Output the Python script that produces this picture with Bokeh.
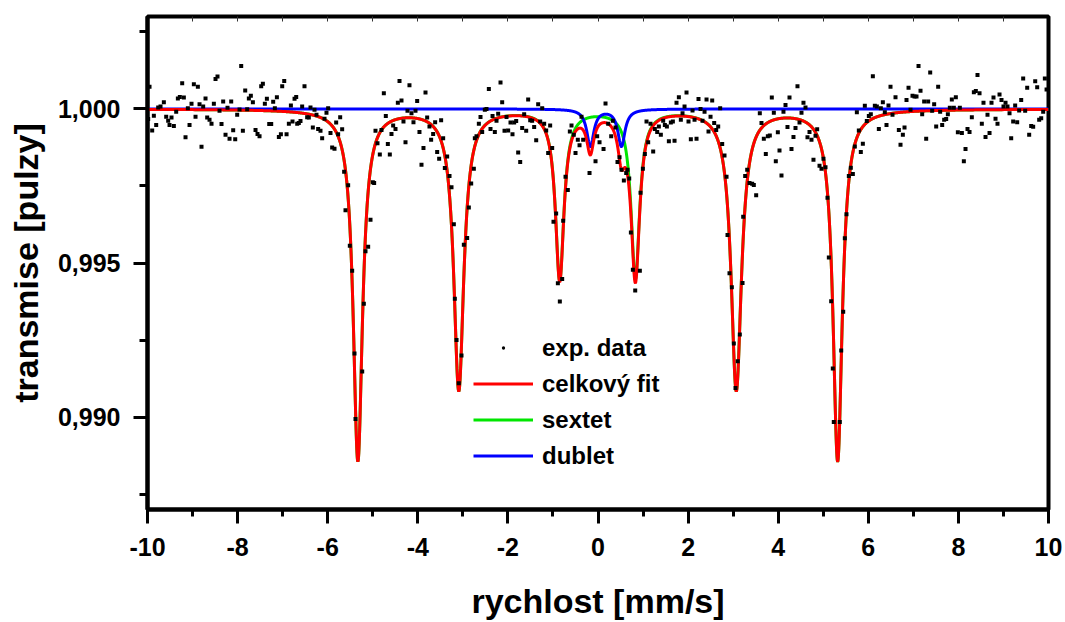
import numpy as np
from bokeh.plotting import figure
from bokeh.models import (Range1d, FixedTicker, LinearAxis, CustomJSTickFormatter,
                          Legend, LegendItem)
from bokeh.embed import file_html
from bokeh.resources import INLINE

# ---------------- data ----------------
exp_x = [
    # -10 .. -6.7
    -9.955, -9.985, -9.896, -9.859, -9.807, -9.763, -9.711, -9.637, -9.585, -9.541,
    -9.511, -9.467, -9.415, -9.363, -9.326, -9.282, -9.230, -9.193, -9.156, -9.104,
    -9.067, -9.023, -8.971, -8.934, -8.882, -8.845, -8.801, -8.764, -8.712, -8.675,
    -8.623, -8.579, -8.527, -8.490, -8.446, -8.401, -8.357, -8.320, -8.268, -8.224,
    -8.179, -8.142, -8.098, -8.053, -8.009, -7.957, -7.920, -7.883, -7.831, -7.787,
    -7.750, -7.706, -7.661, -7.602, -7.558, -7.513, -7.476, -7.439, -7.395, -7.350,
    -7.298, -7.254, -7.210, -7.173, -7.128, -7.084, -7.039, -7.010, -6.965, -6.913,
    -6.862, -6.817, -6.781, -6.736, -6.699, -6.677,
    # -6.7 .. -5.4
    -6.641, -6.604, -6.567, -6.515, -6.456, -6.419, -6.382, -6.330, -6.293, -6.249,
    -6.212, -6.160, -6.123, -6.071, -6.027, -5.990, -5.938, -5.901, -5.849, -5.812,
    -5.768, -5.723, -5.679, -5.635, -5.605, -5.546, -5.509, -5.457,
    -5.405, -5.383, -5.234,
    # -5.2 .. -3.4
    -5.198, -5.161, -5.102, -5.050, -4.998, -4.969, -4.939, -4.895, -4.843, -4.806,
    -4.754, -4.710, -4.665, -4.621, -4.584, -4.547, -4.495, -4.443, -4.406, -4.362,
    -4.318, -4.273, -4.229, -4.185, -4.140, -4.096, -4.051, -4.014, -3.963, -3.918,
    -3.874, -3.829, -3.792, -3.741, -3.704, -3.659, -3.615, -3.570, -3.526, -3.482,
    -3.437, -3.400,
    # -3.4 .. 0
    -3.348, -3.296, -3.252, -3.200, -3.178,
    -3.140, -3.090, -3.030,
    -2.978, -2.904, -2.867, -2.815, -2.756, -2.734, -2.697, -2.645, -2.608, -2.571,
    -2.512, -2.475, -2.423, -2.386, -2.341, -2.290, -2.253, -2.216, -2.164, -2.127,
    -2.075, -2.031, -1.994, -1.942, -1.898, -1.861, -1.816, -1.772, -1.727, -1.683,
    -1.639, -1.594, -1.550, -1.505, -1.461, -1.417, -1.372, -1.328, -1.283, -1.239,
    -1.195, -1.150, -1.106, -1.062, -1.017, -0.988, -0.929, -0.891, -0.847, -0.795,
    -0.773, -0.721, -0.670, -0.625, -0.588, -0.537, -0.499, -0.448, -0.410, -0.366,
    -0.329, -0.188, -0.055,
    # 0 .. 3.3
    -0.018, 0.034, 0.123, 0.167, 0.226, 0.293, 0.330, 0.389, 0.433, 0.478,
    0.522, 0.574, 0.626, 0.656, 0.693, 0.730, 0.774, 0.826, 0.929, 0.944,
    0.996, 1.040, 1.077, 1.114, 1.166, 1.225, 1.262, 1.314, 1.351, 1.395,
    1.447, 1.484, 1.529, 1.573, 1.617, 1.662, 1.699, 1.743, 1.795, 1.839,
    1.876, 1.921, 1.965, 2.009, 2.061, 2.098, 2.143, 2.187, 2.231, 2.276,
    2.320, 2.365, 2.409, 2.453, 2.498, 2.535, 2.579, 2.624, 2.668, 2.712,
    2.757, 2.808, 2.853, 2.875, 2.919, 2.971,
    3.015, 3.052, 3.103, 3.148,
    3.208, 3.223, 3.267, 3.312,
    # 3.3 .. 6.6
    3.363, 3.422, 3.459, 3.511, 3.592, 3.629, 3.681, 3.725, 3.770, 3.814,
    3.858, 3.903, 3.947, 3.992, 4.029, 4.073, 4.117, 4.162, 4.206, 4.251,
    4.295, 4.339, 4.384, 4.428, 4.473, 4.517, 4.561, 4.606, 4.650, 4.695,
    4.739, 4.783, 4.828, 4.865, 4.917, 4.961, 5.005, 5.050, 5.094, 5.124,
    5.176,
    5.212, 5.234, 5.367, 5.399, 5.443,
    5.479, 5.516, 5.568, 5.612, 5.657, 5.701, 5.746, 5.790, 5.834, 5.879,
    5.923, 5.967, 6.012, 6.056, 6.101, 6.145, 6.190, 6.234, 6.278, 6.323,
    6.367, 6.404, 6.448, 6.493, 6.537, 6.604,
    # 6.6 .. 10
    6.678, 6.715, 6.767, 6.804, 6.848, 6.893, 6.937, 6.981, 7.026, 7.070,
    7.115, 7.159, 7.196, 7.240, 7.285, 7.329, 7.374, 7.418, 7.462, 7.507,
    7.551, 7.595, 7.640, 7.684, 7.729, 7.766, 7.810, 7.854, 7.899, 7.943,
    7.988, 8.032, 8.077, 8.121, 8.158, 8.202, 8.247, 8.298, 8.343, 8.387,
    8.424, 8.469, 8.520, 8.557, 8.602, 8.646, 8.691, 8.735, 8.779, 8.824,
    8.868, 8.913, 8.957, 9.001, 9.046, 9.090, 9.135, 9.172, 9.216, 9.260,
    9.305, 9.349, 9.394, 9.438, 9.482, 9.527, 9.571, 9.616, 9.660, 9.705,
    9.749, 9.793, 9.838, 9.882, 9.919, 9.957,
]

exp_y = [
    1.00072, 0.99967, 0.99930, 0.99978, 0.99948, 1.00005, 1.00008, 1.00022, 0.99975, 0.99962,
    0.99948, 0.99972, 0.99945, 0.99991, 1.00034, 1.00039, 1.00083, 1.00037, 0.99908, 1.00002,
    0.99948, 1.00017, 1.00080, 0.99975, 1.00072, 1.00015, 0.99877, 1.00008, 1.00034, 0.99972,
    0.99965, 0.99952, 1.00017, 1.00097, 1.00105, 0.99994, 0.99951, 1.00024, 0.99916, 1.00004,
    0.99903, 1.00024, 0.99931, 0.99902, 0.99981, 0.99998, 1.00139, 0.99929, 1.00060, 0.99999,
    1.00034, 1.00043, 1.00022, 0.99932, 0.99919, 0.99911, 1.00074, 1.00082, 1.00017, 1.00033,
    0.99951, 0.99951, 1.00023, 1.00002, 1.00038, 0.99909, 0.99918, 1.00074, 1.00091, 0.99918,
    0.99952, 1.00011, 0.99959, 1.00033, 1.00039, 0.99952,
    0.99954, 0.99961, 1.00008, 1.00074, 0.99973, 0.99972, 1.00005, 0.99940, 0.99997, 0.99981,
    0.99935, 0.99929, 0.99905, 0.99968, 0.99988, 1.00002, 0.99922, 0.99875, 0.99871, 0.99956,
    0.99918, 0.99973, 0.99934, 0.99796, 0.99671, 0.99752, 0.99556, 0.99475,
    0.99206, 0.98994, 0.99148,
    0.99368, 0.99538, 0.99553, 0.99640, 0.99762, 0.99760, 0.99929, 0.99889, 0.99852, 0.99932,
    1.00051, 0.99977, 0.99886, 0.99852, 0.99919, 0.99946, 0.99935, 1.00020, 1.00091, 1.00027,
    0.99959, 0.99892, 0.99994, 1.00077, 0.99986, 0.99957, 0.99994, 1.00026, 0.99925, 0.99819,
    0.99873, 1.00053, 0.99972, 0.99943, 0.99900, 0.99919, 0.99957, 0.99860, 0.99838, 0.99963,
    0.99905, 0.99808,
    0.99846, 0.99782, 0.99746, 0.99626, 0.99384,
    0.99250, 0.99110, 0.99200,
    0.99559, 0.99581, 0.99680, 0.99758, 0.99806, 0.99905, 0.99911, 0.99952, 0.99974, 0.99925,
    0.99997, 1.00000, 1.00065, 0.99935, 0.99977, 0.99925, 0.99962, 0.99984, 1.00086, 1.00022,
    0.99929, 0.99974, 0.99930, 0.99956, 0.99918, 0.99956, 0.99961, 0.99859, 0.99828, 0.99938,
    0.99983, 0.99929, 1.00031, 0.99963, 0.99962, 0.99941, 0.99898, 1.00015, 0.99959, 1.00002,
    0.99952, 0.99930, 0.99857, 0.99946, 0.99873, 0.99634, 0.99661, 0.99434, 0.99375, 0.99448,
    0.99637, 0.99780, 0.99737, 0.99927, 0.99946, 0.99916, 0.99857, 0.99900, 0.99882, 0.99975,
    0.99900, 0.99792, 0.99830,
    0.99911, 0.99892, 0.99870, 1.00018, 0.99952, 0.99911, 0.99962, 0.99940, 0.99828, 0.99843,
    0.99803, 0.99768, 0.99792, 0.99803, 0.99774, 0.99599, 0.99478, 0.99411, 0.99475, 0.99728,
    0.99806, 0.99854, 0.99959, 0.99892, 0.99952, 0.99862, 0.99935, 0.99925, 0.99943, 0.99916,
    0.99962, 0.99948, 0.99943, 0.99895, 0.99956, 0.99959, 0.99897, 1.00020, 1.00038, 0.99965,
    0.99986, 1.00008, 1.00053, 0.99959, 0.99902, 0.99995, 0.99965, 0.99903, 1.00032, 1.00000,
    0.99962, 0.99991, 1.00031, 0.99927, 0.99975, 1.00027, 0.99954, 0.99932, 0.99943, 1.00002,
    0.99886, 0.99849, 0.99780, 0.99591, 0.99467, 0.99421,
    0.99239, 0.99094, 0.99181, 0.99268,
    0.99435, 0.99650, 0.99782, 0.99803,
    0.99760, 0.99757, 0.99753, 0.99720, 0.99986, 0.99954, 0.99903, 0.99854, 0.99911, 0.99914,
    1.00037, 0.99988, 0.99830, 0.99924, 0.99865, 0.99784, 0.99991, 1.00013, 0.99941, 1.00037,
    0.99870, 0.99909, 0.99938, 1.00074, 0.99956, 0.99988, 1.00020, 1.00005, 0.99908, 0.99925,
    0.99900, 0.99835, 0.99913, 0.99934, 0.99816, 0.99806, 0.99838, 0.99811, 0.99712, 0.99518,
    0.99376,
    0.99158, 0.98984, 0.98984, 0.99216, 0.99342,
    0.99580, 0.99658, 0.99782, 0.99809, 0.99789, 0.99878, 0.99989, 0.99930, 0.99860, 0.99887,
    1.00010, 0.99961, 0.99977, 0.99983, 1.00106, 1.00010, 1.00008, 0.99935, 1.00002, 1.00022,
    0.99989, 0.99948, 1.00011, 1.00072, 0.99981, 1.00038,
    0.99932, 0.99884, 0.99916, 0.99940, 1.00029, 1.00069, 0.99997, 1.00043, 1.00040, 1.00040,
    1.00139, 1.00059, 0.99983, 1.00024, 0.99903, 1.00024, 1.00118, 0.99994, 1.00015, 0.99943,
    1.00072, 0.99991, 0.99948, 0.99965, 0.99967, 0.99983, 1.00004, 1.00031, 1.00004, 1.00038,
    0.99924, 1.00004, 0.99922, 0.99830, 0.99870, 0.99935, 0.99925, 0.99973, 1.00054, 1.00058,
    1.00110, 1.00051, 0.99952, 1.00020, 0.99909, 0.99981, 0.99922, 1.00020, 1.00037, 0.99968,
    0.99952, 1.00047, 1.00029, 1.00008, 1.00020, 1.00008, 0.99986, 0.99905, 0.99959, 1.00011,
    0.99957, 0.99995, 1.00029, 1.00099, 0.99994, 1.00069, 0.99916, 0.99945, 0.99942, 1.00090,
    1.00070, 0.99965, 0.99970, 0.99991, 1.00099, 1.00063,
]

# Lorentzian fit components, line positions / depths / widths
sextet_pos = [-5.33, -3.09, -0.85, 0.83, 3.07, 5.32]
sextet_depth = [0.0114, 0.0091, 0.0055, 0.00545, 0.0091, 0.0114]
sextet_fwhm = [0.25, 0.27, 0.23, 0.23, 0.28, 0.25]
doublet_pos = [-0.17, 0.52]
doublet_depth = [0.0012, 0.0012]
doublet_fwhm = [0.19, 0.19]

x_major = [-10, -8, -6, -4, -2, 0, 2, 4, 6, 8, 10]
x_minor = [-9, -7, -5, -3, -1, 1, 3, 5, 7, 9]
y_major = [0.990, 0.995, 1.000]
y_minor = [0.9875, 0.9925, 0.9975, 1.0025]
top_ticks = [-9, -8, -7, -6, -5, -4, -3, -2, -1, 0, 1, 2, 3, 4, 5, 6, 7, 8, 9]

legend_labels = ["exp. data", "celkový fit", "sextet", "dublet"]


def absorption(x, pos, depth, fwhm):
    out = np.zeros_like(x)
    for c, d, w in zip(pos, depth, fwhm):
        g2 = (w / 2.0) ** 2
        out += d * g2 / ((x - c) ** 2 + g2)
    return out


xf = np.linspace(-10, 10, 4001)
sext_abs = absorption(xf, sextet_pos, sextet_depth, sextet_fwhm)
doub_abs = absorption(xf, doublet_pos, doublet_depth, doublet_fwhm)
sextet_curve = 1.0 - sext_abs
doublet_curve = 1.0 - doub_abs
total_curve = 1.0 - sext_abs - doub_abs

FONT = "Liberation Sans"

p = figure(width=1065, height=622, output_backend="svg", toolbar_location=None,
           x_range=Range1d(-10, 10), y_range=Range1d(0.987, 1.003),
           min_border_left=147, min_border_right=17, min_border_top=16,
           min_border_bottom=110,
           x_axis_label="rychlost [mm/s]", y_axis_label="transmise [pulzy]")
p.grid.visible = False
p.outline_line_color = "black"
p.outline_line_width = 4
p.background_fill_color = "white"
p.border_fill_color = "white"

p.xaxis.ticker = FixedTicker(ticks=x_major, minor_ticks=x_minor)
p.yaxis.ticker = FixedTicker(ticks=y_major, minor_ticks=y_minor)
p.xaxis.formatter = CustomJSTickFormatter(code="return tick.toFixed(0);")
p.yaxis.formatter = CustomJSTickFormatter(code="return tick.toFixed(3).replace('.', ',');")

for ax in (p.xaxis[0], p.yaxis[0]):
    ax.axis_line_width = 4
    ax.axis_line_color = "black"
    ax.major_tick_line_width = 3
    ax.minor_tick_line_width = 3
    ax.major_tick_line_color = "black"
    ax.minor_tick_line_color = "black"
    ax.major_tick_in = 0
    ax.minor_tick_in = 0
    ax.major_tick_out = 14
    ax.major_label_text_font = FONT
    ax.major_label_text_font_style = "bold"
    ax.major_label_text_font_size = "25px"
    ax.major_label_text_color = "black"
    ax.axis_label_text_font = FONT
    ax.axis_label_text_font_style = "bold"
    ax.axis_label_text_font_size = "34px"
    ax.axis_label_text_color = "black"

p.xaxis.minor_tick_out = 7
p.yaxis.minor_tick_out = 8
p.xaxis.major_label_standoff = 14
p.yaxis.major_label_standoff = 13
p.xaxis.axis_label_standoff = 23
p.yaxis.axis_label_standoff = 10

top = LinearAxis(ticker=FixedTicker(ticks=top_ticks),
                 formatter=CustomJSTickFormatter(code="return '';"),
                 axis_line_color=None, major_tick_in=5, major_tick_out=0,
                 minor_tick_in=0, minor_tick_out=0,
                 major_tick_line_width=1, major_tick_line_color="#333333",
                 major_label_text_font_size="0px", major_label_standoff=0)
p.add_layout(top, "above")

# legend key for the data: the same points drawn as tiny dots (hidden under the squares)
r_pts_key = p.scatter(exp_x, exp_y, marker="dot", size=4, line_color="black",
                      fill_color="black")
r_sext = p.line(xf, sextet_curve, line_color="#00e600", line_width=3)
r_doub = p.line(xf, doublet_curve, line_color="#0000ff", line_width=3)
r_tot = p.line(xf, total_curve, line_color="#ff0000", line_width=3)
r_pts = p.scatter(exp_x, exp_y, marker="square", size=4, fill_color="black",
                  line_color=None)

legend = Legend(items=[LegendItem(label=legend_labels[0], renderers=[r_pts_key]),
                       LegendItem(label=legend_labels[1], renderers=[r_tot]),
                       LegendItem(label=legend_labels[2], renderers=[r_sext]),
                       LegendItem(label=legend_labels[3], renderers=[r_doub])],
                location=(326, 37), orientation="vertical",
                label_text_font=FONT, label_text_font_style="bold",
                label_text_font_size="24px", label_text_color="black",
                glyph_width=60, glyph_height=33, label_height=33,
                label_standoff=9, spacing=3, padding=0, margin=0,
                border_line_color=None, background_fill_alpha=0)
p.add_layout(legend)

open("out.html", "w").write(file_html(p, INLINE))
